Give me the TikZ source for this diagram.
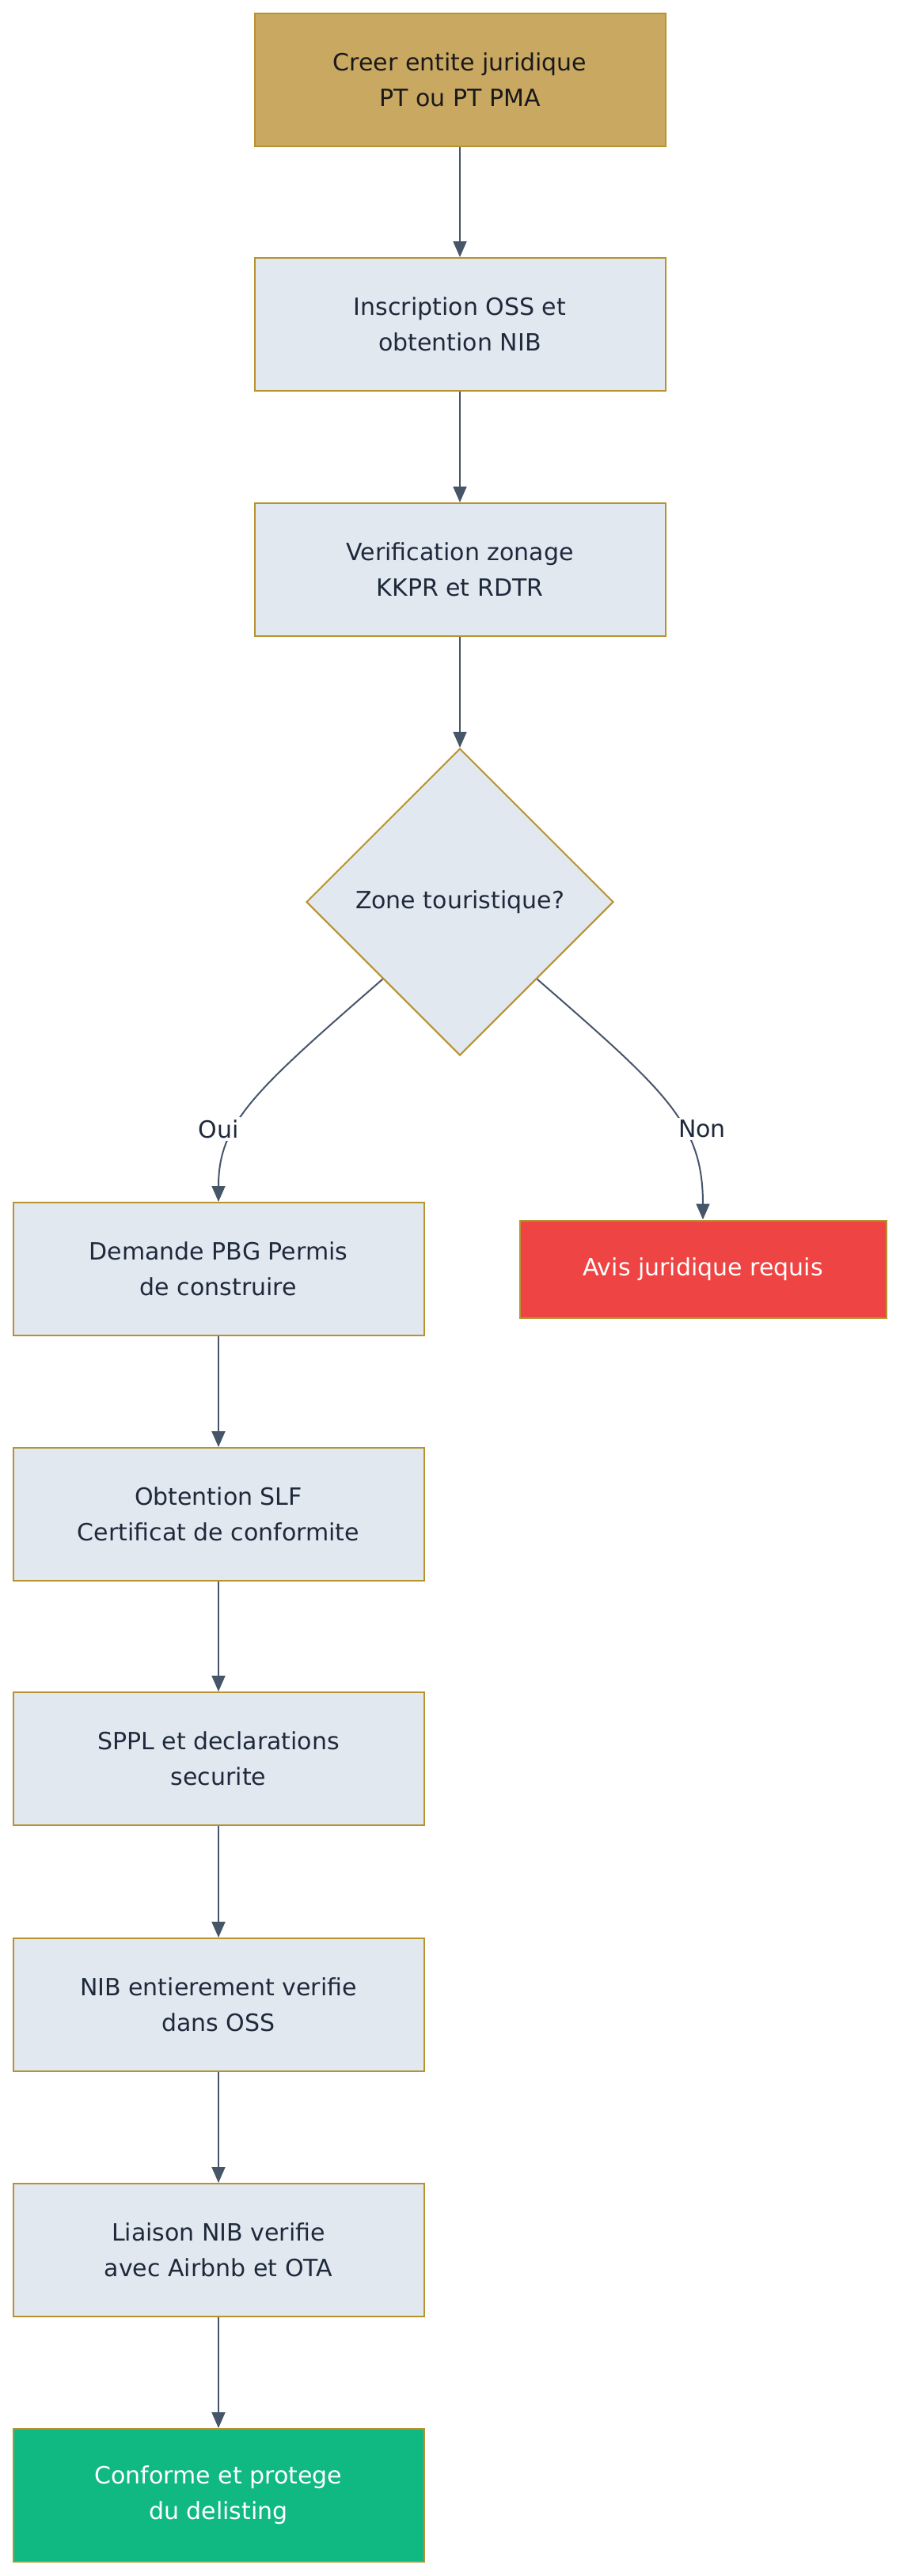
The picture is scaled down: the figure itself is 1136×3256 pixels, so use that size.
\documentclass[tikz,border=0pt]{standalone}
\usepackage{fontspec}
\setmainfont{DejaVu Sans}
\usetikzlibrary{shapes.geometric,arrows.meta}
\definecolor{gold}{HTML}{B8922E}
\definecolor{tan}{HTML}{C9A862}
\definecolor{slatefill}{HTML}{E2E8F0}
\definecolor{slatetext}{HTML}{1E293B}
\definecolor{edgecol}{HTML}{475569}
\definecolor{redfill}{HTML}{EF4444}
\definecolor{greenfill}{HTML}{10B981}
\tikzset{
  box/.style={rectangle, draw=gold, line width=2pt, fill=slatefill, text=slatetext,
    minimum width=519pt, minimum height=168pt, align=center, inner sep=0pt,
    font=\fontsize{30}{45}\selectfont},
  startbox/.style={box, fill=tan, text=black!90},
  redbox/.style={box, fill=redfill, text=white, minimum width=463pt, minimum height=123pt},
  greenbox/.style={box, fill=greenfill, text=white},
  decision/.style={diamond, draw=gold, line width=2pt, fill=slatefill, text=slatetext,
    minimum width=388pt, minimum height=388pt, inner sep=0pt, aspect=1,
    font=\fontsize{30}{45}\selectfont},
  edge/.style={draw=edgecol, line width=2pt, -{Triangle[length=20pt,width=17pt]}},
  elabel/.style={fill=white, text=slatetext, inner sep=3pt, font=\fontsize{30}{45}\selectfont}
}
\begin{document}
\begin{tikzpicture}[x=1pt,y=-1pt]
\useasboundingbox (0,0) rectangle (1136,3256);
\node[startbox] (a) at (581,101) {Creer entite juridique\\PT ou PT PMA};
\node[box] (b) at (581,410) {Inscription OSS et\\obtention NIB};
\node[box] (c) at (581,720) {Verification zonage\\KKPR et RDTR};
\node[decision] (d) at (581,1140) {Zone touristique?};
\node[box] (e) at (276,1604) {Demande PBG Permis\\de construire};
\node[redbox] (f) at (888,1604) {Avis juridique requis};
\node[box] (g) at (276,1914) {Obtention SLF\\Certificat de conformite};
\node[box] (h) at (276,2223) {SPPL et declarations\\securite};
\node[box] (i) at (276,2534) {NIB entierement verifie\\dans OSS};
\node[box] (j) at (276,2844) {Liaison NIB verifie\\avec Airbnb et OTA};
\node[greenbox] (k) at (276,3154) {Conforme et protege\\du delisting};

\draw[edge] (a.south) -- (b.north);
\draw[edge] (b.south) -- (c.north);
\draw[edge] (c.south) -- (d.north);
\draw[edge] (d.south west) .. controls (320,1380) and (276,1420) .. (e.north);
\draw[edge] (d.south east) .. controls (842,1380) and (888,1420) .. (f.north);
\node[elabel] (oui) at (276,1427) {Oui};
\node[elabel] (non) at (887,1427) {Non};
\draw[edge] (e.south) -- (g.north);
\draw[edge] (g.south) -- (h.north);
\draw[edge] (h.south) -- (i.north);
\draw[edge] (i.south) -- (j.north);
\draw[edge] (j.south) -- (k.north);
\end{tikzpicture}
\end{document}
